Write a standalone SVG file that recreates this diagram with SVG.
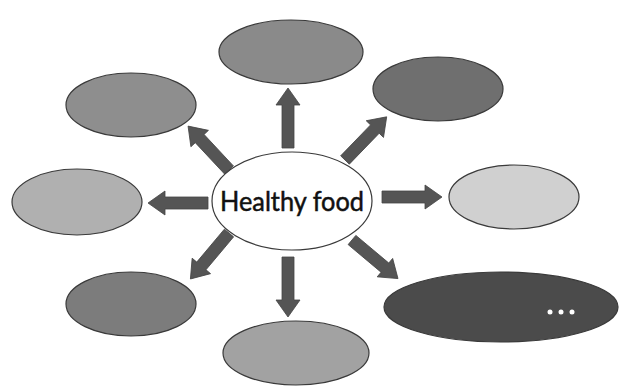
<svg xmlns="http://www.w3.org/2000/svg" xmlns:xlink="http://www.w3.org/1999/xlink" width="619" height="392" viewBox="0 0 619 392">
<style>
.n{stroke:#3a3a3a;stroke-width:1.2}
.arr{fill:#555555;stroke:#444444;stroke-width:0.8}
.t{font-family:Lato,"Open Sans",sans-serif;font-size:27px;fill:#111;stroke:#111;stroke-width:0.5}
</style>
<defs>
<path id="a" d="M0,-6 L43,-6 L43,-12 L60,0 L43,12 L43,6 L0,6 Z"/>
</defs>
<rect width="619" height="392" fill="#ffffff"/>
<g id="connectors" class="arr">
<use xlink:href="#a" transform="translate(288,148) rotate(-90)"/>
<use xlink:href="#a" transform="translate(229,170) rotate(-133)"/>
<use xlink:href="#a" transform="translate(345,160) rotate(-46)"/>
<use xlink:href="#a" transform="translate(208,203) rotate(180)"/>
<use xlink:href="#a" transform="translate(382,197)"/>
<use xlink:href="#a" transform="translate(229,233) rotate(130)"/>
<use xlink:href="#a" transform="translate(288,257) rotate(90)"/>
<use xlink:href="#a" transform="translate(352,240) rotate(40)"/>
</g>
<g id="center"><ellipse class="n" cx="292" cy="201" rx="80" ry="49" fill="#ffffff"/><text class="t" x="292" y="211" text-anchor="middle" textLength="144" lengthAdjust="spacingAndGlyphs">Healthy food</text></g>
<g id="top"><ellipse class="n" cx="291" cy="52" rx="72" ry="32" fill="#8a8a8a"/></g>
<g id="upper-left"><ellipse class="n" cx="131" cy="105" rx="65" ry="32" fill="#8e8e8e"/></g>
<g id="upper-right"><ellipse class="n" cx="438" cy="89" rx="65" ry="32" fill="#6f6f6f"/></g>
<g id="left"><ellipse class="n" cx="77" cy="202" rx="65" ry="33" fill="#b0b0b0"/></g>
<g id="right"><ellipse class="n" cx="514" cy="197" rx="65" ry="32" fill="#d0d0d0"/></g>
<g id="lower-left"><ellipse class="n" cx="131" cy="304" rx="65" ry="32" fill="#7c7c7c"/></g>
<g id="bottom"><ellipse class="n" cx="296" cy="353" rx="73" ry="32" fill="#a2a2a2"/></g>
<g id="lower-right"><ellipse class="n" cx="501" cy="307" rx="117" ry="35" fill="#4b4b4b"/>
<g fill="#ffffff"><circle cx="550" cy="312" r="2.5"/><circle cx="561" cy="312" r="2.5"/><circle cx="572" cy="312" r="2.5"/></g></g>
</svg>
